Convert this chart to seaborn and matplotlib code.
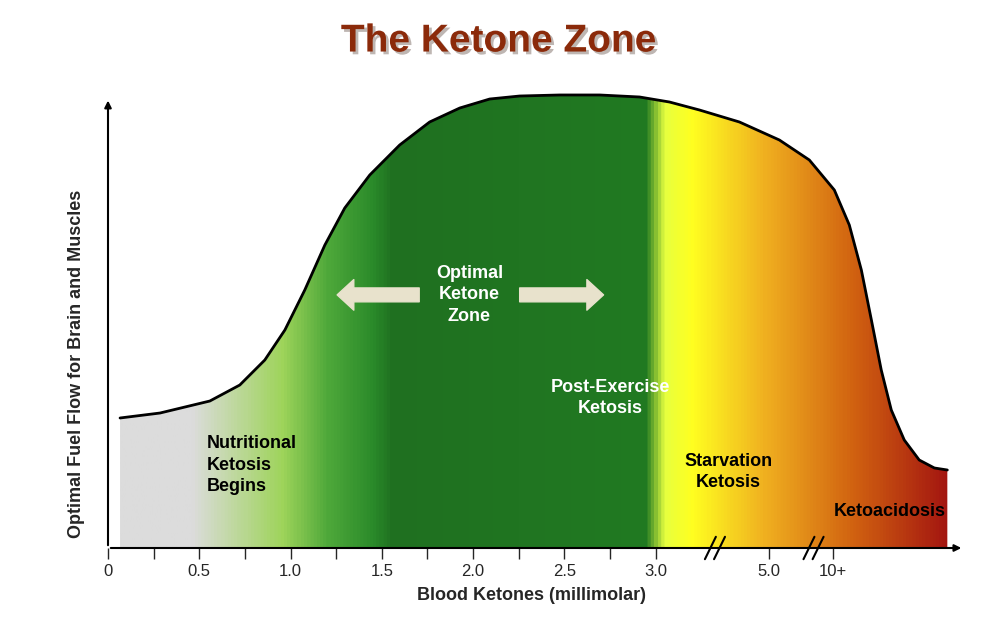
import numpy as np
import matplotlib
matplotlib.use("Agg")
import matplotlib.pyplot as plt
import seaborn as sns
from matplotlib.colors import LinearSegmentedColormap
from matplotlib.patches import Polygon
import matplotlib.patheffects as pe

# curve (pixel coords converted below into axis units)
curve_px = [120, 160, 210, 240, 265, 285, 305, 325, 345, 370, 400, 430, 460, 490, 520, 560, 600, 640, 670,
            700, 740, 780, 810, 835, 850, 862, 872, 882, 892, 905, 920, 935, 948]
curve_py = [418, 413, 401, 385, 360, 330, 290, 245, 208, 175, 145, 122, 108, 99, 96, 95, 95, 97, 102,
            110, 122, 140, 160, 190, 225, 270, 320, 370, 410, 440, 460, 468, 470]
curve_x = [round((p - 108) / 182.7, 3) for p in curve_px]
curve_y = [round((548 - p) / 4.48, 2) for p in curve_py]
tick_pos = [0, 0.5, 1.0, 1.5, 2.0, 2.5, 3.0, 3.62, 3.97]
tick_labels = ["0", "0.5", "1.0", "1.5", "2.0", "2.5", "3.0", "5.0", "10+"]
minor_pos = [0.25, 0.75, 1.25, 1.75, 2.25, 2.75]
grad_stops = [(0.0, "#dcdcdc"), (0.45, "#dcdcdc"), (0.95, "#9ed45a"), (1.2, "#4ea83a"),
              (1.45, "#2a8a2a"), (1.55, "#1f7020"), (2.95, "#217a22"), (3.05, "#e6ff40"),
              (3.2, "#ffff20"), (3.6, "#f0b020"), (4.1, "#d06010"), (4.64, "#a01010")]

sns.set_style("white")
plt.rcParams['font.family'] = ['Liberation Sans', 'DejaVu Sans']
fig = plt.figure(figsize=(9.97, 6.39), dpi=100)
ax = fig.add_axes([108/997, 91/639, 847/997, 461/639])
XMAX = 4.64
YMAX = 461 / 4.48
ax.set_xlim(0, XMAX)

cmap = LinearSegmentedColormap.from_list("k", [(p/XMAX, c) for p, c in grad_stops])
grad = np.linspace(0, 1, 800).reshape(1, -1)
im = ax.imshow(grad, cmap=cmap, aspect="auto", extent=[0, XMAX, 0, YMAX], zorder=1)
poly = Polygon(list(zip([curve_x[0]] + curve_x + [curve_x[-1]], [0] + curve_y + [0])),
               closed=True, transform=ax.transData, facecolor="none", edgecolor="none")
ax.add_patch(poly)
im.set_clip_path(poly)
sns.lineplot(x=curve_x, y=curve_y, ax=ax, color="black", lw=2, zorder=3, sort=False)
ax.set_xlim(0, XMAX); ax.set_ylim(0, YMAX)

for s in ax.spines.values():
    s.set_visible(False)
ax.annotate("", xy=(XMAX + 0.05, 0), xytext=(0, 0), annotation_clip=False,
            arrowprops=dict(arrowstyle="-|>", color="black", lw=1.5))
ax.annotate("", xy=(0, 100.5), xytext=(0, 0), annotation_clip=False,
            arrowprops=dict(arrowstyle="-|>", color="black", lw=1.5))
ax.set_xticks(tick_pos); ax.set_xticklabels(tick_labels, fontsize=12)
ax.set_xticks(minor_pos, minor=True)
ax.tick_params(axis="x", which="both", length=8, width=1, direction="out", bottom=True)
ax.set_yticks([])
ax.set_xlabel("Blood Ketones (millimolar)", fontsize=13, fontweight="bold", labelpad=6)
ax.set_ylabel("Optimal Fuel Flow for Brain and Muscles", fontsize=13, fontweight="bold", labelpad=18)
ax.yaxis.set_label_coords(-0.027, 0.4)

for bx in [3.3, 3.84]:
    for d in [0, 0.05]:
        ax.plot([bx + d - 0.03, bx + d + 0.03], [-2.5, 2.5], color="black", lw=1.5, clip_on=False, zorder=5)

fig.text(0.5, 0.935, "The Ketone Zone", ha="center", va="center", fontsize=28, fontweight="bold",
         color="#8b2a0a", path_effects=[pe.withSimplePatchShadow(offset=(2, -2), alpha=0.3)])

kw = dict(fontsize=13, fontweight="bold", va="center", zorder=4, linespacing=1.35)
ax.text(0.54, 18.5, "Nutritional\nKetosis\nBegins", ha="left", color="black", **kw)
ax.text(1.98, 56.5, "Optimal\nKetone\nZone", ha="center", color="white", **kw)
ax.text(2.75, 33.5, "Post-Exercise\nKetosis", ha="center", color="white", **kw)
ax.text(3.4, 17, "Starvation\nKetosis", ha="center", color="black", **kw)
ax.text(4.28, 8.2, "Ketoacidosis", ha="center", color="black", **kw)

ax.annotate("", xy=(1.24, 56.5), xytext=(1.72, 56.5),
            arrowprops=dict(arrowstyle="simple,head_width=2.2,head_length=1.2,tail_width=1.0", color="#e8e2cc"), zorder=4)
ax.annotate("", xy=(2.73, 56.5), xytext=(2.24, 56.5),
            arrowprops=dict(arrowstyle="simple,head_width=2.2,head_length=1.2,tail_width=1.0", color="#e8e2cc"), zorder=4)

fig.savefig("out.png", dpi=100)
